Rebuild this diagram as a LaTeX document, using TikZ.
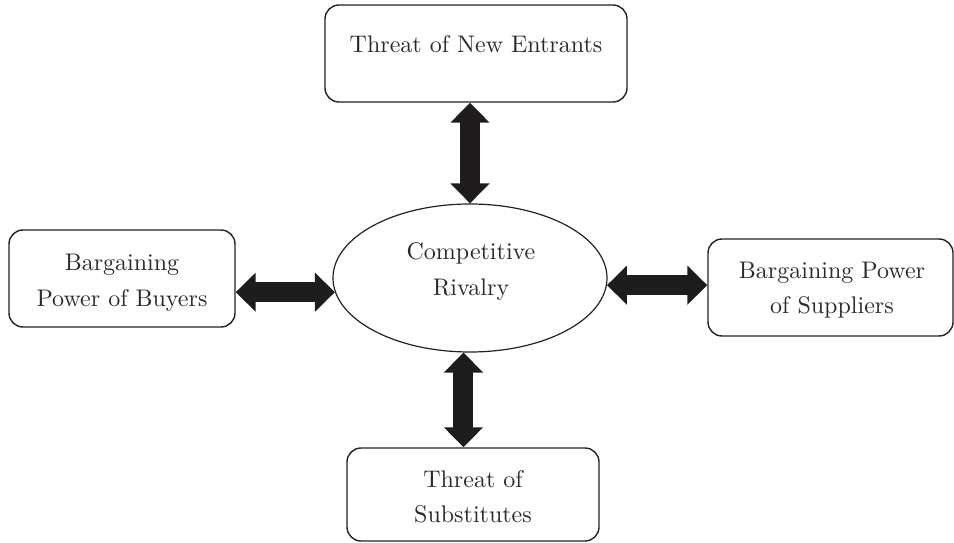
\documentclass[tikz,border=0pt]{standalone}
\usepackage{fontspec}
\setmainfont{lmroman10-regular}[Extension=.otf]
\usetikzlibrary{arrows.meta,shapes.geometric,calc}
\definecolor{ink}{HTML}{222222}
\definecolor{txt}{HTML}{2A2A2A}
\definecolor{arrowink}{HTML}{1E1C1C}
\begin{document}
\begin{tikzpicture}[x=1pt,y=-1pt,
  box/.style={draw=ink,line width=1.4pt,rounded corners=14pt,inner sep=0pt},
  ellbox/.style={draw=ink,line width=1.2pt,ellipse,inner sep=0pt},
  lbl/.style={anchor=base,inner sep=0pt,text=txt,font=\fontsize{24}{36}\selectfont},
  bigarrow/.style={draw=arrowink,line width=20pt,
    {Triangle[width=38pt,length=20pt]}-{Triangle[width=38pt,length=20pt]}}]
\useasboundingbox (0,0) rectangle (954,543);
% shapes
\node[box,minimum width=302pt,minimum height=97pt] (top) at (476,53.5) {};
\node[ellbox,minimum width=274pt,minimum height=148pt] (ell) at (470,278) {};
\node[box,minimum width=226pt,minimum height=97pt] (left) at (122,278.5) {};
\node[box,minimum width=245pt,minimum height=97pt] (right) at (830.5,287.5) {};
\node[box,minimum width=252pt,minimum height=93pt] (bot) at (473,494.5) {};
% texts
\node[lbl] (topA) at (476,53) {Threat of New Entrants};
\node[lbl] (ellA) at (471,259) {Competitive};
\node[lbl] (ellB) at (471,295) {Rivalry};
\node[lbl] (leftA) at (122,270) {Bargaining};
\node[lbl] (leftB) at (122,306) {Power of Buyers};
\node[lbl] (rightA) at (832,278) {Bargaining Power};
\node[lbl] (rightB) at (832,313) {of Suppliers};
\node[lbl] (botA) at (473,487) {Threat of};
\node[lbl] (botB) at (473,522) {Substitutes};
% connectors
\draw[bigarrow] (top.south -| ell.north) -- (ell.north);
\draw[bigarrow] (ell.265) -- (bot.north -| ell.265);
\draw[bigarrow] (left.east |- ell.186) -- (ell.186);
\draw[bigarrow] (ell.357) -- (right.west |- ell.357);
\end{tikzpicture}
\end{document}
